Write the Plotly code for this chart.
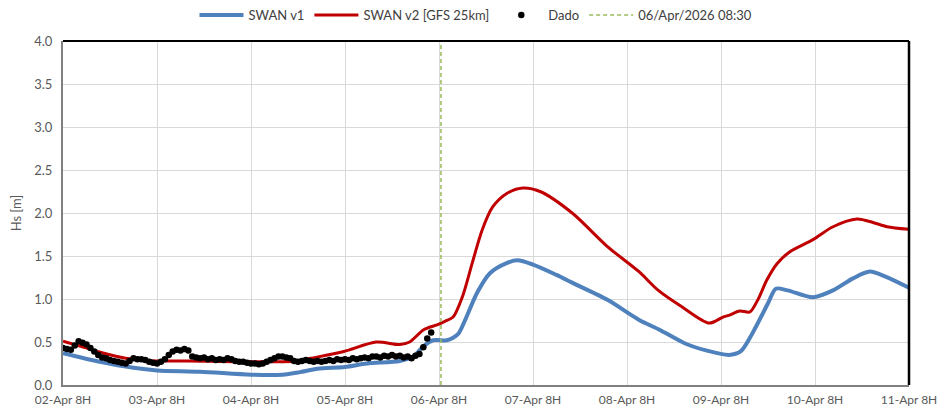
import plotly.graph_objects as go
import pandas as pd

start = pd.Timestamp("2026-04-02 08:00")

# SWAN v1 (hours from 02-Apr 08:00, Hs m)
v1_hours = [0, 9.4, 18, 24, 35, 48, 56, 60.5, 65, 72, 77.6, 86, 89.4, 92, 94.5, 98, 99.6, 101, 103,
            105.7, 109, 113.4, 116, 120, 126, 130, 139, 147, 152.4, 159, 164.4, 170, 173, 176, 180,
            182, 185, 191.5, 196.6, 201.7, 206, 210, 216]
v1_vals = [0.37, 0.27, 0.20, 0.17, 0.155, 0.12, 0.12, 0.15, 0.19, 0.21, 0.25, 0.28, 0.33, 0.45, 0.52, 0.52, 0.55, 0.60, 0.79,
           1.07, 1.30, 1.42, 1.45, 1.40, 1.28, 1.19, 0.99, 0.76, 0.64, 0.48, 0.40, 0.35, 0.39, 0.60, 0.95,
           1.12, 1.10, 1.02, 1.10, 1.24, 1.32, 1.26, 1.13]

# SWAN v2 [GFS 25km]
v2_hours = [0, 4.6, 9.5, 16, 23, 32, 45, 60, 63.3, 71.7, 80, 86, 88.5, 92, 95.5, 97.5, 99.6, 102, 104.5,
            107, 109.7, 113.4, 117.4, 121.8, 130, 139, 147, 152, 158, 165, 168.5, 170, 172.8, 175.4,
            177.4, 179.7, 182.3, 185.6, 191.5, 196.6, 202.7, 206.8, 210.4, 216]
v2_vals = [0.51, 0.45, 0.38, 0.31, 0.28, 0.28, 0.27, 0.28, 0.31, 0.39, 0.50, 0.47, 0.50, 0.64, 0.70, 0.74, 0.79, 1.03, 1.42,
           1.80, 2.07, 2.23, 2.29, 2.25, 2.00, 1.61, 1.32, 1.10, 0.91, 0.72, 0.79, 0.81, 0.86, 0.85,
           0.99, 1.22, 1.41, 1.55, 1.69, 1.84, 1.93, 1.89, 1.84, 1.81]

# Dado (observations, hourly from 02-Apr 08:00)
dado_vals = [0.43, 0.42, 0.41, 0.46, 0.51, 0.49, 0.47, 0.43, 0.39, 0.35,
             0.32, 0.31, 0.29, 0.28, 0.27, 0.26, 0.25, 0.28, 0.31, 0.30,
             0.30, 0.29, 0.27, 0.26, 0.25, 0.27, 0.30, 0.35, 0.39, 0.41,
             0.40, 0.42, 0.40, 0.33, 0.32, 0.31, 0.32, 0.30, 0.31, 0.29,
             0.30, 0.29, 0.31, 0.30, 0.28, 0.27, 0.27, 0.26, 0.25, 0.25,
             0.24, 0.25, 0.27, 0.29, 0.31, 0.33, 0.33, 0.32, 0.31, 0.28,
             0.27, 0.28, 0.29, 0.28, 0.27, 0.28, 0.27, 0.28, 0.29, 0.28,
             0.30, 0.29, 0.30, 0.29, 0.31, 0.30, 0.31, 0.32, 0.31, 0.33,
             0.33, 0.32, 0.34, 0.33, 0.35, 0.33, 0.34, 0.32, 0.33, 0.31,
             0.34, 0.36, 0.44, 0.54, 0.61]
dado_hours = list(range(len(dado_vals)))

vline_time = "2026-04-06 08:30"
vline_y = [0, 4]

tick_labels = ["02-Apr 8H", "03-Apr 8H", "04-Apr 8H", "05-Apr 8H", "06-Apr 8H",
               "07-Apr 8H", "08-Apr 8H", "09-Apr 8H", "10-Apr 8H", "11-Apr 8H"]
tick_vals = [start + pd.Timedelta(days=i) for i in range(len(tick_labels))]

def to_time(hours):
    return [start + pd.Timedelta(hours=h) for h in hours]

FONT = "Lato"
TXT = "#595959"

fig = go.Figure()
fig.add_trace(go.Scatter(x=to_time(v1_hours), y=v1_vals, mode="lines", name="SWAN v1",
                         line=dict(color="#4F81BD", width=4, shape="spline", smoothing=0.8)))
fig.add_trace(go.Scatter(x=to_time(v2_hours), y=v2_vals, mode="lines", name="SWAN v2 [GFS 25km]",
                         line=dict(color="#C00000", width=3, shape="spline", smoothing=0.8)))
fig.add_trace(go.Scatter(x=to_time(dado_hours), y=dado_vals, mode="markers", name="Dado",
                         marker=dict(color="black", size=6.5)))
fig.add_trace(go.Scatter(x=[vline_time, vline_time], y=vline_y, mode="lines", name="06/Apr/2026 08:30",
                         line=dict(color="#9BBB59", width=1.5, dash="4px,3px")))

fig.update_layout(
    width=937, height=409,
    margin=dict(l=63, r=28, t=41, b=24, autoexpand=False),
    paper_bgcolor="white", plot_bgcolor="white",
    font=dict(family=FONT, size=12, color=TXT),
    showlegend=True,
    legend=dict(orientation="h", x=0.508, xanchor="center", xref="container",
                y=1 - 15 / 409, yanchor="middle", yref="container",
                font=dict(family=FONT, size=13, color="#404040"), itemwidth=44,
                tracegroupgap=0, bgcolor="rgba(0,0,0,0)"),
    xaxis=dict(type="date", range=[tick_vals[0], tick_vals[-1]], tickvals=tick_vals, ticktext=tick_labels,
               showgrid=True, gridcolor="#D9D9D9", gridwidth=1, showline=True, linecolor="#808080",
               linewidth=2, ticks="", zeroline=False, automargin=False, ticklabeloverflow="allow",
               ticklabelstandoff=3, tickfont=dict(size=12, color=TXT)),
    yaxis=dict(range=[0, 4], dtick=0.5, tickformat=".1f", showgrid=True, gridcolor="#D9D9D9",
               gridwidth=1, showline=True, linecolor="#808080", linewidth=2, ticks="",
               zeroline=False, automargin=False, ticklabelstandoff=6,
               title=dict(text="Hs [m]", font=dict(size=13, color=TXT), standoff=10),
               tickfont=dict(size=13, color=TXT)),
    shapes=[
        dict(type="line", xref="paper", yref="paper", x0=0, x1=1, y0=1, y1=1,
             line=dict(color="black", width=2)),
        dict(type="line", xref="paper", yref="paper", x0=1, x1=1, y0=0, y1=1,
             line=dict(color="black", width=2.5)),
    ],
)

fig.write_html("out.html", config={"displayModeBar": False},
               post_script="document.body.style.margin='0';")
